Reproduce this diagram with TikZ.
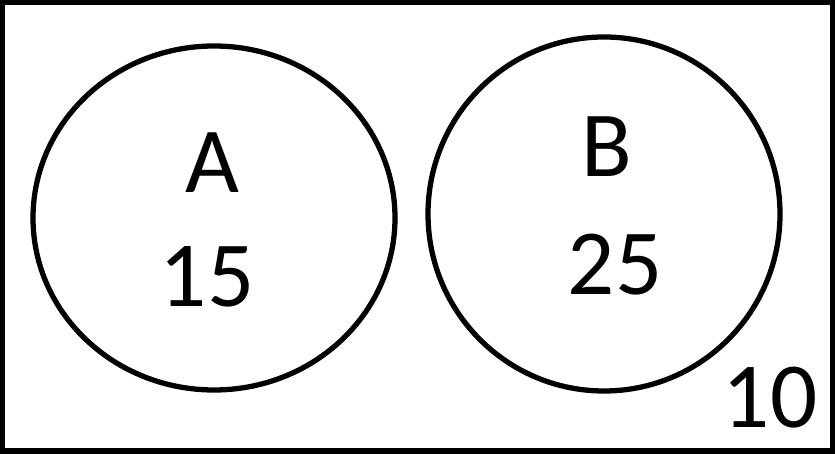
\documentclass[tikz,border=0pt]{standalone}
\usepackage{fontspec}
\setmainfont{Carlito}
\usetikzlibrary{shapes.geometric, positioning}

\begin{document}
\begin{tikzpicture}[
    setbox/.style={draw, line width=1.5pt, inner sep=0pt, outer sep=0pt},
    setcirc/.style={draw, ellipse, line width=1.5pt, inner sep=0pt},
    setlabel/.style={font=\fontsize{26.5}{30}\selectfont, anchor=base, inner sep=0pt}
]
    \useasboundingbox (0,0) rectangle (8.35,4.54);

    % Universal set
    \node[setbox, minimum width=8.30cm, minimum height=4.485cm] (universe) at (4.175, 2.2725) {};

    % Sets A and B
    \node[setcirc, minimum width=3.62cm, minimum height=3.44cm] (setA) at (2.14, 2.36) {};
    \node[setcirc, minimum width=3.52cm, minimum height=3.54cm] (setB) at (6.04, 2.40) {};

    % Labels and counts
    \node[setlabel] (nameA) at (2.12, 2.61) {A};
    \node[setlabel] (countA) at (2.07, 1.47) {15};
    \node[setlabel] (nameB) at (6.07, 2.77) {B};
    \node[setlabel] (countB) at (6.15, 1.59) {25};
    \node[setlabel] (countU) at (7.70, 0.26) {10};
\end{tikzpicture}
\end{document}
